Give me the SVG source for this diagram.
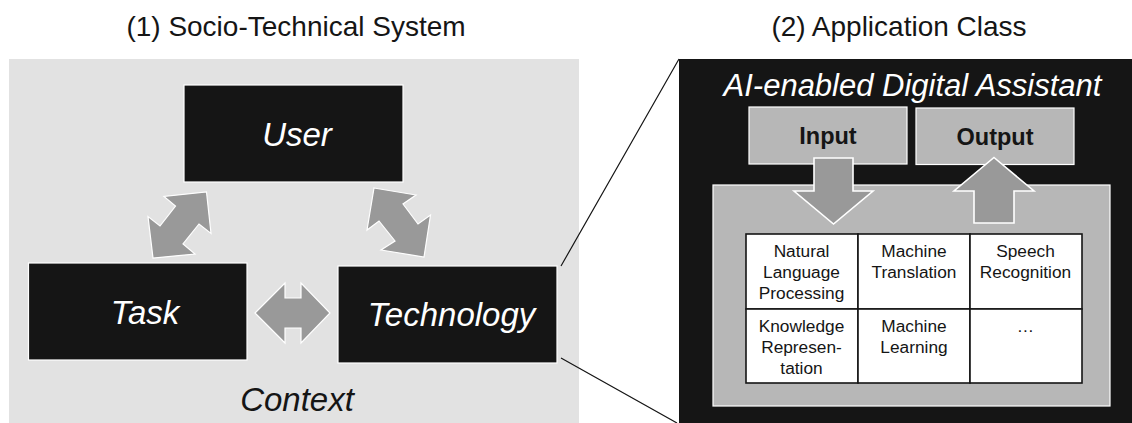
<svg xmlns="http://www.w3.org/2000/svg" width="1132" height="423" viewBox="0 0 1132 423">
<style>
text{font-family:"Liberation Sans",Arial,sans-serif;text-anchor:middle}
.box{fill:#151515;stroke:#fff;stroke-width:1.2}
.lab{font-style:italic;font-size:33px;fill:#fff}
.title{font-size:28px;fill:#151515}
.arr{fill:#999;stroke:#fff;stroke-width:1.2}
.arrd{fill:#999;stroke:#fff;stroke-width:1.6}
.mid{fill:#b7b7b7;stroke:#fff;stroke-width:1.2}
.cell{fill:#fff;stroke:#151515;stroke-width:1.6}
.ct{font-size:17.3px;fill:#151515}
.io{font-size:23.5px;font-weight:bold;fill:#151515}
</style>
<rect x="0" y="0" width="1132" height="423" fill="#fff"/>
<text class="title" x="296" y="36">(1) Socio-Technical System</text>
<text class="title" x="899" y="36">(2) Application Class</text>
<g id="context"><rect x="9" y="59" width="570" height="364" fill="#e2e2e2"/>
<text x="297" y="411" font-size="33" font-style="italic" fill="#151515">Context</text></g>
<g id="connectors">
<polygon class="arr" points="206.500,192 211,233.500 199,224 183,244 195,254 153,258 148,216.500 160,226 175.500,206 164,196.500"/>
<polygon class="arr" points="374,188 416,195 403,204 418,224 430.500,215 424,257 381,250 395,241 379,221 367,230"/>
<polygon class="arr" points="255,313 285,283 285,298 301,298 301,283 330,313 301,343 301,328 285,328 285,343"/>
<path d="M561,266L679,59M561,358L677,423" fill="none" stroke="#151515" stroke-width="1.2"/>
</g>
<g id="user"><rect class="box" x="184" y="85" width="219" height="97"/><text class="lab" x="297" y="146">User</text></g>
<g id="task"><rect class="box" x="28.500" y="263" width="218.500" height="97"/><text class="lab" x="145" y="324">Task</text></g>
<g id="technology"><rect class="box" x="338" y="266" width="219" height="97"/><text class="lab" x="451.500" y="326">Technology</text></g>
<g id="assistant"><rect x="679" y="59" width="453" height="364" fill="#151515"/>
<text x="912.500" y="96" font-size="31" font-style="italic" fill="#fff">AI-enabled Digital Assistant</text></g>
<g id="input"><rect class="mid" x="749" y="107" width="158" height="57"/><text class="io" x="828" y="144">Input</text></g>
<g id="output"><rect class="mid" x="916" y="108" width="158" height="56.500"/><text class="io" x="995" y="145">Output</text></g>
<g id="capabilities"><rect class="mid" x="713" y="185" width="397" height="221"/></g>
<g id="arrows-io">
<polygon class="arrd" points="814,158 853,158 853,191 873,191 833.500,224 794,191 814,191"/>
<polygon class="arrd" points="994,157.500 1034,191 1014,191 1014,223 974,223 974,191 954,191"/>
</g>
<g id="nlp"><rect class="cell" x="746" y="234" width="112" height="75"/><text class="ct" x="801.500" y="257">Natural</text><text class="ct" x="801.500" y="278">Language</text><text class="ct" x="801.500" y="299">Processing</text></g>
<g id="mt"><rect class="cell" x="858" y="234" width="112" height="75"/><text class="ct" x="914" y="257">Machine</text><text class="ct" x="914" y="278">Translation</text></g>
<g id="sr"><rect class="cell" x="970" y="234" width="112" height="75"/><text class="ct" x="1025.500" y="257">Speech</text><text class="ct" x="1025.500" y="278">Recognition</text></g>
<g id="kr"><rect class="cell" x="746" y="309" width="112" height="74"/><text class="ct" x="801.500" y="332">Knowledge</text><text class="ct" x="801.500" y="353">Represen-</text><text class="ct" x="801.500" y="373.500">tation</text></g>
<g id="ml"><rect class="cell" x="858" y="309" width="112" height="74"/><text class="ct" x="914" y="332">Machine</text><text class="ct" x="914" y="353">Learning</text></g>
<g id="more"><rect class="cell" x="970" y="309" width="112" height="74"/><text class="ct" x="1025.500" y="332">…</text></g>
</svg>
